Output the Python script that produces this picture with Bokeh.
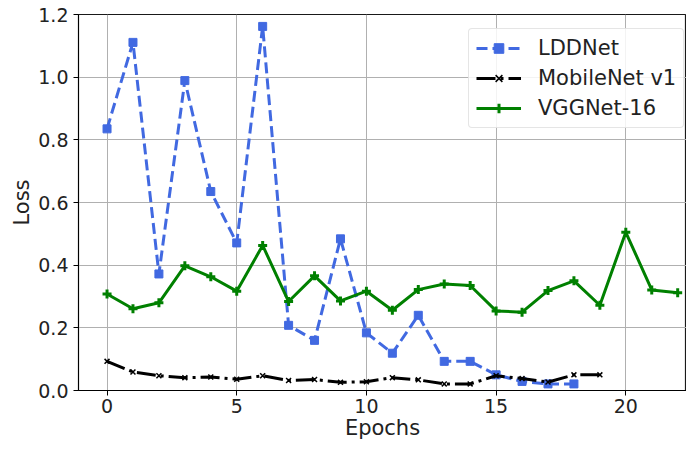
from bokeh.plotting import figure
from bokeh.embed import file_html
from bokeh.resources import INLINE
from bokeh.models import Range1d, FixedTicker, NumeralTickFormatter, Legend, LegendItem

lddnet_x = list(range(19))
lddnet = [0.835, 1.111, 0.372, 0.989, 0.635, 0.471, 1.162, 0.208, 0.160, 0.484,
          0.184, 0.119, 0.240, 0.093, 0.093, 0.050, 0.029, 0.021, 0.021]
mobilenet_x = list(range(20))
mobilenet = [0.093, 0.059, 0.047, 0.041, 0.043, 0.036, 0.047, 0.032, 0.035, 0.026,
             0.028, 0.041, 0.034, 0.021, 0.021, 0.047, 0.038, 0.027, 0.050, 0.050]
vgg_x = list(range(23))
vgg = [0.308, 0.261, 0.280, 0.398, 0.363, 0.317, 0.463, 0.284, 0.366, 0.286,
       0.317, 0.256, 0.322, 0.340, 0.335, 0.254, 0.250, 0.319, 0.350, 0.272,
       0.505, 0.321, 0.312]
x_ticks = [0, 5, 10, 15, 20]
y_ticks = [0.0, 0.2, 0.4, 0.6, 0.8, 1.0, 1.2]

FONT = "DejaVu Sans"

p = figure(width=686, height=442, output_backend="svg", toolbar_location=None,
           x_range=Range1d(-1.1, 22.34), y_range=Range1d(0, 1.2),
           min_border_left=78, min_border_right=0, min_border_top=14, min_border_bottom=46)
p.outline_line_color = "black"
p.outline_line_width = 1.2
p.outline_line_alpha = 0.9

for ax in (p.xaxis[0], p.yaxis[0]):
    ax.major_label_text_font = FONT
    ax.major_label_text_font_size = "19px"
    ax.major_label_text_color = "#222222"
    ax.axis_label_text_font = FONT
    ax.axis_label_text_font_size = "21px"
    ax.axis_label_text_font_style = "normal"
    ax.axis_label_text_color = "#222222"
    ax.minor_tick_line_color = None
    ax.major_tick_out = 5
    ax.major_tick_in = 0
    ax.axis_line_color = "black"
    ax.major_tick_line_color = "black"

p.xaxis.ticker = FixedTicker(ticks=x_ticks)
p.yaxis.ticker = FixedTicker(ticks=y_ticks)
p.yaxis.formatter = NumeralTickFormatter(format="0.0")
p.xaxis.axis_label = "Epochs"
p.yaxis.axis_label = "Loss"
p.xaxis.major_label_standoff = 3
p.xaxis.axis_label_standoff = 0
p.yaxis.axis_label_standoff = 1

p.xgrid.ticker = FixedTicker(ticks=x_ticks)
p.ygrid.ticker = FixedTicker(ticks=y_ticks)
p.grid.grid_line_color = "#b0b0b0"
p.grid.grid_line_width = 1

blue = "#4169e1"
l1 = p.line(lddnet_x, lddnet, line_color=blue, line_width=3, line_dash="11 5")
s1 = p.scatter(lddnet_x, lddnet, marker="square", size=8, fill_color=blue, line_color=blue)

l2 = p.line(mobilenet_x, mobilenet, line_color="black", line_width=3, line_dash="19 5 3 5")
s2 = p.scatter(mobilenet_x, mobilenet, marker="x", size=7, line_color="black", line_width=1.5)

green = "#008000"
l3 = p.line(vgg_x, vgg, line_color=green, line_width=3)
s3 = p.scatter(vgg_x, vgg, marker="cross", size=9, line_color=green, line_width=3)

legend = Legend(items=[
    LegendItem(label="LDDNet", renderers=[l1, s1]),
    LegendItem(label="MobileNet v1", renderers=[l2, s2]),
    LegendItem(label="VGGNet-16", renderers=[l3, s3]),
], location=(390, 262))
legend.label_text_font = FONT
legend.label_text_font_size = "21px"
legend.label_text_color = "#222222"
legend.glyph_width = 45
legend.glyph_height = 24
legend.label_standoff = 17
legend.spacing = 6
legend.padding = 7
legend.margin = 0
legend.border_line_color = "#cccccc"
legend.border_line_width = 1
legend.border_radius = 4
legend.background_fill_alpha = 0.85
p.add_layout(legend)

open("out.html", "w").write(file_html(p, INLINE))
